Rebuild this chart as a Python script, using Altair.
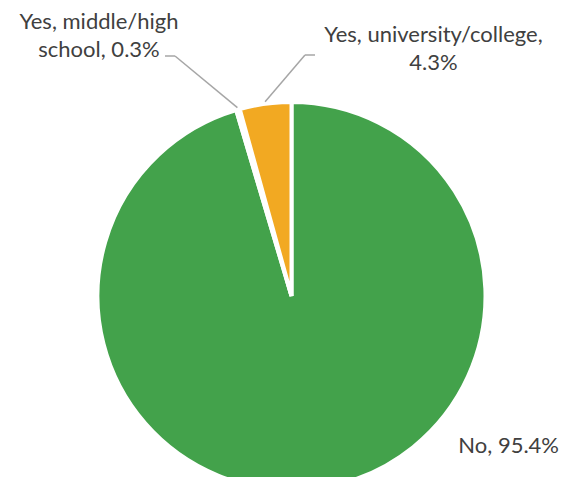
import altair as alt
import pandas as pd
import numpy as np

categories = ["No", "Yes, middle/high school", "Yes, university/college"]
values = [95.4, 0.3, 4.3]
colors = ["#43A24B", "#7F7F7F", "#F2A922"]
label_lines = [["No, 95.4%"], ["Yes, middle/high", "school, 0.3%"], ["Yes, university/college,", "4.3%"]]

df = pd.DataFrame({"category": categories, "value": values, "idx": list(range(len(categories)))})

CX, CY, R = 283.5, 288, 194
W, H = 553, 469

pie = alt.Chart(df).mark_arc(outerRadius=R, stroke="white", strokeWidth=4).encode(
    theta=alt.Theta("value:Q", stack=True),
    order=alt.Order("idx:Q"),
    color=alt.Color("category:N", scale=alt.Scale(domain=categories, range=colors), legend=None),
    x=alt.value(CX),
    y=alt.value(CY),
)

# leader line anchors at slice mid-angles
cum = np.cumsum([0] + values)
mids = [(cum[i] + cum[i + 1]) / 2 / 100 * 2 * np.pi for i in range(len(values))]
def edge(i, r=R + 2):
    return CX + r * np.sin(mids[i]), CY - r * np.cos(mids[i])

line_color = "#A6A6A6"
def seg(x1, y1, x2, y2):
    return alt.Chart(df.iloc[:1]).mark_rule(color=line_color, strokeWidth=1.5).encode(
        x=alt.value(float(x1)), y=alt.value(float(y1)), x2=alt.value(float(x2)), y2=alt.value(float(y2))
    )

ex1, ey1 = edge(1)
ex2, ey2 = edge(2)
lines = [
    seg(157, 48, 167, 48), seg(167, 48, ex1, ey1),
    seg(307, 47, 297, 47), seg(297, 47, ex2, ey2),
]

def label(lines_, x, y, align="center"):
    return alt.Chart(df.iloc[:1]).mark_text(
        font="Lato", fontSize=22, color="#404040", align=align, baseline="alphabetic", lineHeight=28
    ).encode(x=alt.value(x), y=alt.value(y), text=alt.value(lines_))

labels = [
    label(label_lines[0], 551, 445, align="right"),
    label(label_lines[1], 91, 21),
    label(label_lines[2], 425.5, 34),
]

chart = alt.layer(pie, *lines, *labels).properties(
    width=W, height=H, padding=0, autosize=alt.AutoSizeParams(type="none")
).configure_view(stroke=None)

chart.save("out.html", embed_options={"renderer": "svg", "actions": False})
